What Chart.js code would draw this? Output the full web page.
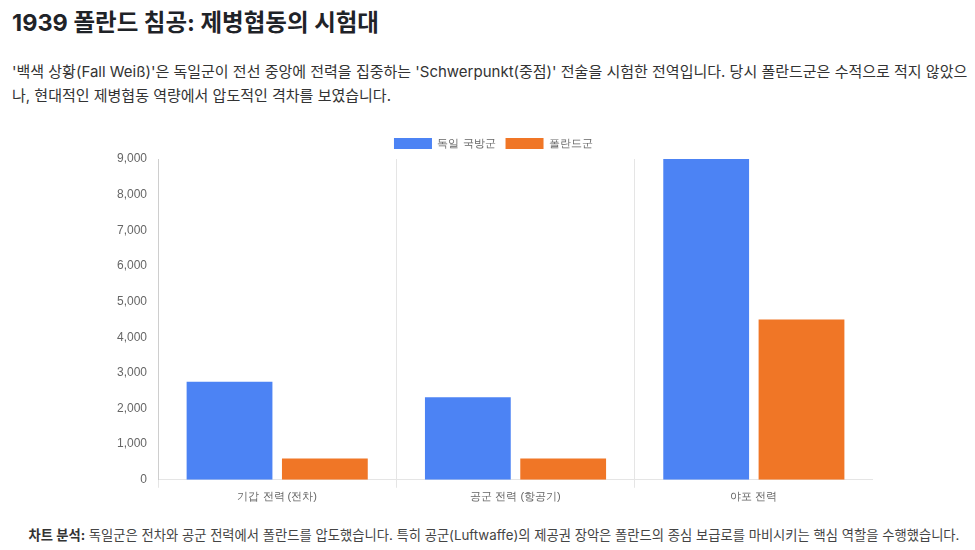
<!DOCTYPE html>
<html lang="ko">
<head>
<meta charset="utf-8">
<script src="https://cdn.jsdelivr.net/npm/chart.js@4.4.1/dist/chart.umd.min.js"></script>
<style>
  body {
    margin: 0;
    padding: 0 0 0 12px;
    width: 963px;
    font-family: "Inter", "Noto Sans CJK KR", sans-serif;
    color: #222;
    background: #fff;
    overflow: hidden;
  }
  h1 {
    margin: 8px 0 0 0;
    font-size: 23.5px;
    font-weight: 700;
    line-height: 30px;
    color: #1f2328;
  }
  .desc {
    margin: 22px 0 0 0;
    font-size: 15px;
    line-height: 24px;
    color: #333;
  }
  #chart-box {
    position: absolute;
    left: 114px;
    top: 128px;
    width: 759px;
    height: 379px;
  }
  .note {
    position: absolute;
    left: 0;
    top: 525px;
    width: 988px;
    text-align: center;
    font-size: 13.3px;
    color: #444;
  }
  .note b { color: #333; }
</style>
</head>
<body>
<h1>1939 폴란드 침공: 제병협동의 시험대</h1>
<p class="desc">'백색 상황(Fall Weiß)'은 독일군이 전선 중앙에 전력을 집중하는 'Schwerpunkt(중점)' 전술을 시험한 전역입니다. 당시 폴란드군은 수적으로 적지 않았으나, 현대적인 제병협동 역량에서 압도적인 격차를 보였습니다.</p>

<div id="chart-box"><canvas id="chart"></canvas></div>

<div class="note"><b>차트 분석:</b> 독일군은 전차와 공군 전력에서 폴란드를 압도했습니다. 특히 공군(Luftwaffe)의 제공권 장악은 폴란드의 종심 보급로를 마비시키는 핵심 역할을 수행했습니다.</div>

<script>
// categories and series
const categories = ['기갑 전력 (전차)', '공군 전력 (항공기)', '야포 전력'];
const germanLabel = '독일 국방군';
const polishLabel = '폴란드군';
const germanValues = [2750, 2315, 9000];
const polishValues = [600, 600, 4500];

const ctx = document.getElementById('chart').getContext('2d');

new Chart(ctx, {
  type: 'bar',
  data: {
    labels: categories,
    datasets: [
      {
        label: germanLabel,
        data: germanValues,
        backgroundColor: '#4c83f4',
        borderWidth: 0
      },
      {
        label: polishLabel,
        data: polishValues,
        backgroundColor: '#f07626',
        borderWidth: 0
      }
    ]
  },
  options: {
    responsive: true,
    maintainAspectRatio: false,
    animation: false,
    plugins: {
      legend: {
        position: 'top',
        labels: { color: '#666', font: { size: 11 }, boxWidth: 38, boxHeight: 11 }
      },
      tooltip: { enabled: false }
    },
    scales: {
      x: {
        grid: { display: true, color: 'rgba(0,0,0,0.1)' },
        ticks: { color: '#666', font: { size: 11 } }
      },
      y: {
        beginAtZero: true,
        grid: { display: false },
        ticks: { color: '#666', font: { size: 12 } }
      }
    }
  }
});
</script>
</body>
</html>
